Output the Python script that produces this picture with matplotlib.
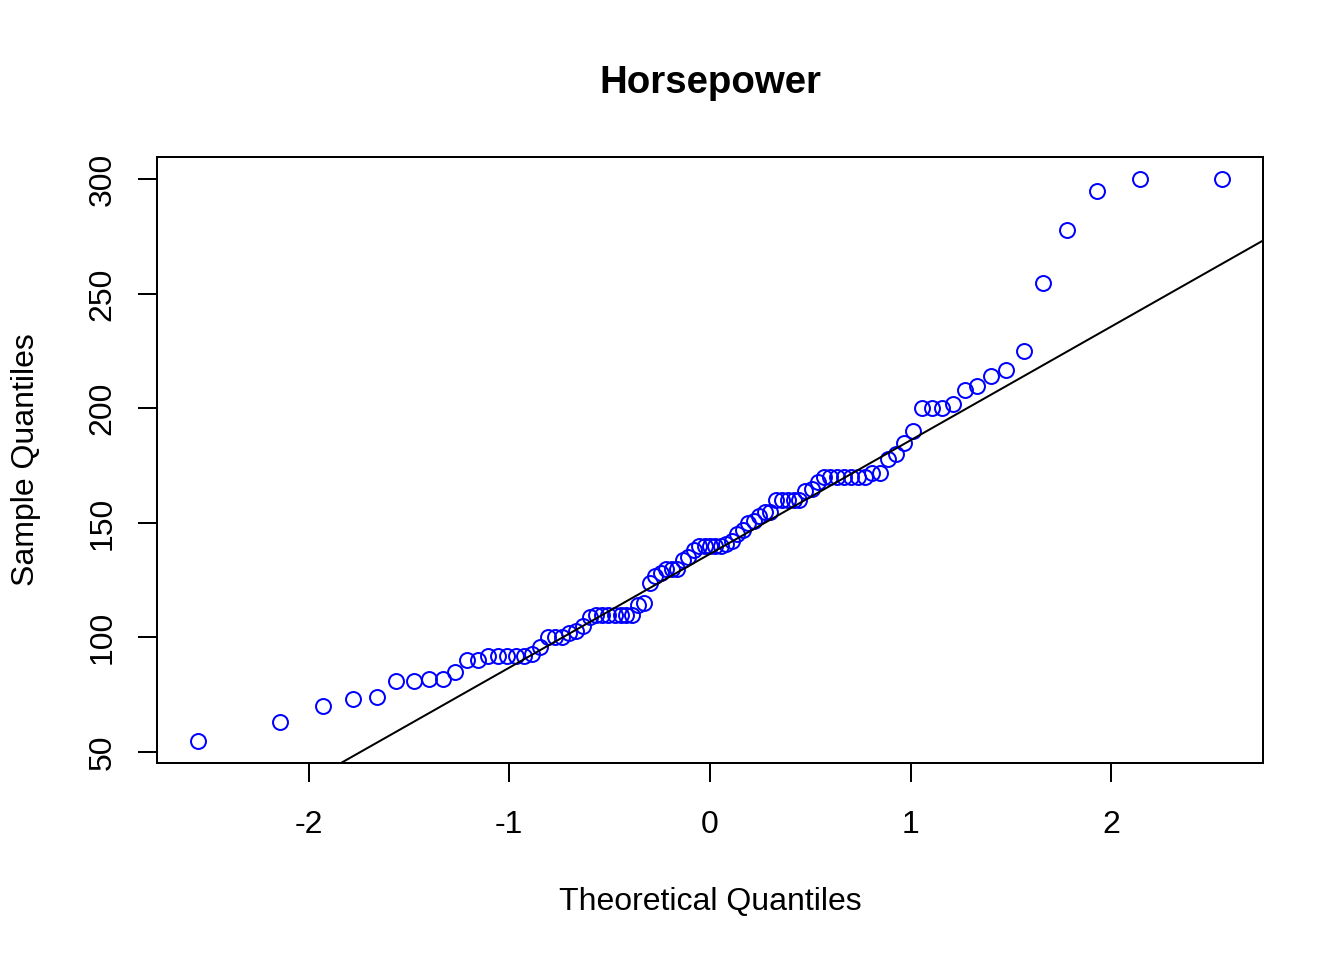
from statistics import NormalDist
import numpy as np
import matplotlib
matplotlib.use("Agg")
import matplotlib.pyplot as plt

plt.rcParams['font.family'] = ['Liberation Sans', 'DejaVu Sans']

# horsepower values, one per car (93 cars)
horsepower = [140, 200, 172, 172, 208, 110, 170, 180, 170, 200, 295, 110,
              110, 160, 110, 170, 165, 170, 300, 153, 141, 147, 92, 93,
              100, 142, 100, 300, 92, 214, 63, 127, 96, 105, 115, 145,
              140, 190, 55, 90, 160, 102, 140, 81, 124, 92, 128, 278,
              185, 225, 160, 210, 82, 103, 164, 155, 255, 130, 217, 100,
              140, 92, 202, 110, 150, 151, 160, 155, 110, 170, 170, 92,
              74, 110, 160, 200, 170, 140, 85, 73, 90, 130, 70, 82,
              135, 130, 138, 81, 109, 134, 178, 114, 168]
x_ticks = [-2, -1, 0, 1, 2]
y_ticks = [50, 100, 150, 200, 250, 300]

y = np.sort(np.array(horsepower, dtype=float))
n = len(y)
nd = NormalDist()
probs = (np.arange(1, n + 1) - 0.5) / n
x = np.array([nd.inv_cdf(p) for p in probs])

# reference line through the quartiles
q1, q3 = np.quantile(y, [0.25, 0.75])
z1, z3 = nd.inv_cdf(0.25), nd.inv_cdf(0.75)
slope = (q3 - q1) / (z3 - z1)
icpt = q1 - slope * z1


def padded(lo, hi):
    d = (hi - lo) * 0.04
    return lo - d, hi + d


fig = plt.figure(figsize=(7, 5), dpi=192)
ax = fig.add_axes([157 / 1344, 1 - 763 / 960, (1263 - 157) / 1344, (763 - 157) / 960])

xlim = padded(x.min(), x.max())
ylim = padded(y.min(), y.max())
ax.plot(x, y, 'o', mfc='none', mec='blue', ms=5.6, mew=0.75)
xx = np.array(xlim)
ax.plot(xx, icpt + slope * xx, color='black', lw=0.75)
ax.set_xlim(xlim)
ax.set_ylim(ylim)

for s in ax.spines.values():
    s.set_linewidth(0.75)
ax.set_xticks(x_ticks)
ax.set_xticklabels([str(v) for v in x_ticks])
ax.set_yticks(y_ticks)
ax.set_yticklabels([str(v) for v in y_ticks], rotation=90, va='center')
ax.tick_params(length=7.2, width=0.75, labelsize=12)
ax.tick_params(axis='x', pad=10.4)
ax.tick_params(axis='y', pad=7.5)

ax.set_xlabel('Theoretical Quantiles', fontsize=12, labelpad=17.5)
ax.set_ylabel('Sample Quantiles', fontsize=12, labelpad=17.5)
ax.set_title('Horsepower', fontsize=14.4, fontweight='bold', pad=24)

fig.savefig('out.png', dpi=192)
